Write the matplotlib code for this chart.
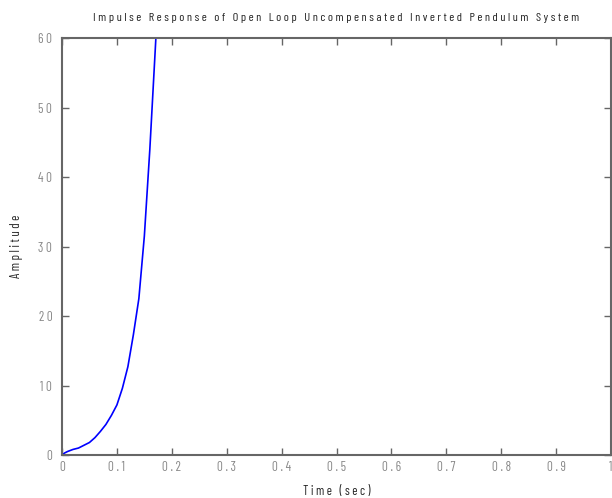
import matplotlib
matplotlib.use('Agg')
import matplotlib.pyplot as plt
import numpy as np

# impulse response
t = [0.0, 0.005, 0.01, 0.02, 0.03, 0.04, 0.05, 0.06, 0.07, 0.08, 0.09, 0.10,
     0.11, 0.12, 0.13, 0.14, 0.15, 0.16, 0.171]
amp = [0.0, 0.3, 0.5, 0.8, 1.0, 1.4, 1.8, 2.5, 3.4, 4.4, 5.7, 7.2,
       9.6, 12.7, 17.3, 22.5, 31.5, 44.0, 60.0]

x_ticks = np.round(np.arange(0, 1.01, 0.1), 1)
y_ticks = np.arange(0, 61, 10)

title = 'Impulse Response of Open Loop Uncompensated Inverted Pendulum System'
xlabel = 'Time (sec)'
ylabel = 'Amplitude'


def spaced(s):
    return ' '.join(s)


def tick_text(v):
    if v == 0:
        return '0'
    if v == 1:
        return '1'
    return spaced(f'{v:g}')


fam = ['Barlow Condensed', 'Archivo Narrow', 'DejaVu Sans']
gray = '#888888'

fig = plt.figure(figsize=(6.12, 4.98), dpi=100)
ax = fig.add_axes([62 / 612, 1 - 455 / 498, 549 / 612, 417 / 498])

ax.plot(t, amp, color='#0000ff', linewidth=1.2)
ax.set_xlim(0, 1)
ax.set_ylim(0, 60)

ax.set_xticks(x_ticks)
ax.set_xticklabels([tick_text(v) for v in x_ticks], family=fam, fontsize=9.5, color=gray)
ax.set_yticks(y_ticks)
ax.set_yticklabels([spaced(str(v)) for v in y_ticks], family=fam, fontsize=9.5, color=gray)
ax.tick_params(direction='in', length=5, width=1, color='#666666', top=True, right=True)
ax.tick_params(axis='x', pad=4)
ax.tick_params(axis='y', pad=7)

for s in ax.spines.values():
    s.set_color('#666666')
    s.set_linewidth(1.5)

ax.set_title(spaced(title), family=fam, fontsize=8.9, color='#222222', pad=12)
ax.set_xlabel(spaced(xlabel), family=fam, fontsize=9.2, color='#222222', labelpad=8)
ax.set_ylabel(spaced(ylabel), family=fam, fontsize=9.2, color='#222222', labelpad=11)

fig.savefig('out.png', dpi=100)
